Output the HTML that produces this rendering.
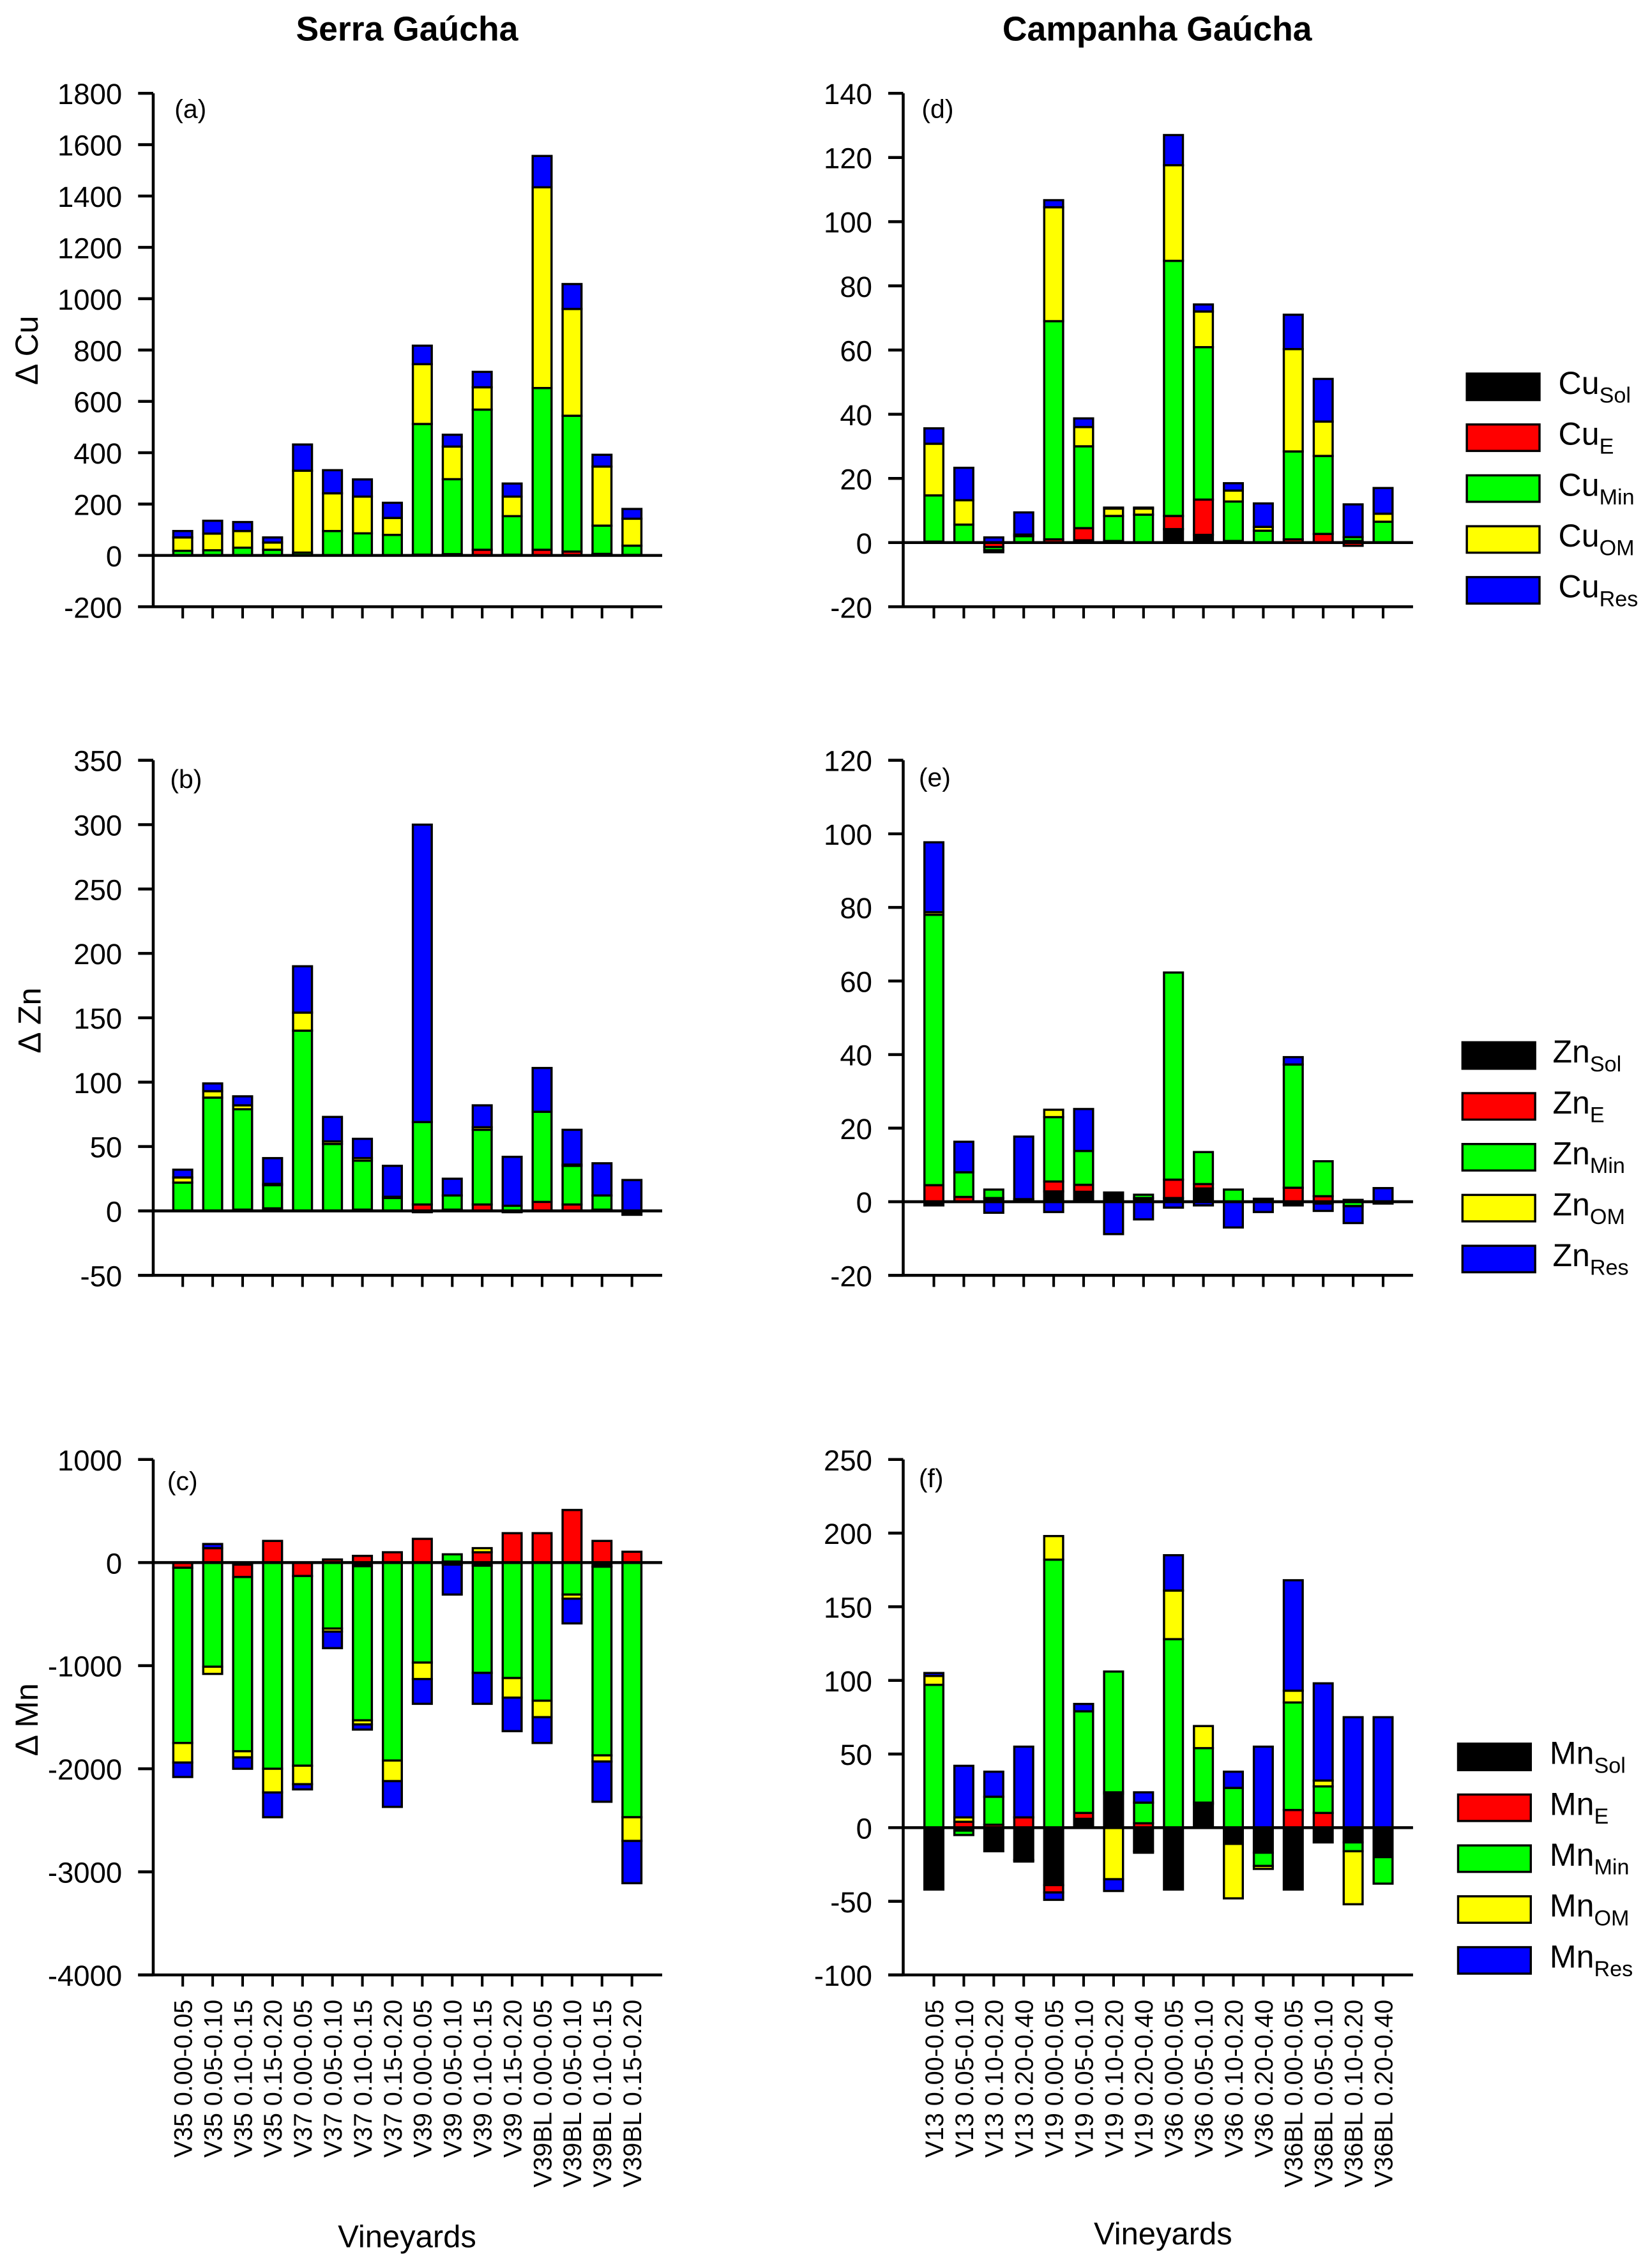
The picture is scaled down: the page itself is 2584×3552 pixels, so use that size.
<!DOCTYPE html>
<html><head><meta charset="utf-8"><style>
html,body{margin:0;padding:0;background:#fff}
svg{display:block}
text{font-family:"Liberation Sans",Arial,sans-serif;fill:#000}
</style></head><body>
<svg id="chart" xmlns="http://www.w3.org/2000/svg" width="2584" height="3552" viewBox="0 0 1135 1560.2" preserveAspectRatio="none">
<text x="280" y="28" font-size="23.5" font-weight="bold" text-anchor="middle">Serra Gaúcha</text>
<text x="796" y="28" font-size="23.5" font-weight="bold" text-anchor="middle">Campanha Gaúcha</text>
<text transform="translate(26,241) rotate(-90)" font-size="22" text-anchor="middle">Δ Cu</text>
<text transform="translate(28,702) rotate(-90)" font-size="22" text-anchor="middle">Δ Zn</text>
<text transform="translate(26,1183) rotate(-90)" font-size="22" text-anchor="middle">Δ Mn</text>
<text x="280" y="1546" font-size="21.5" text-anchor="middle">Vineyards</text>
<text x="800" y="1544" font-size="21.5" text-anchor="middle">Vineyards</text>
<g id="plots"></g>
</svg>
<script>
const catsSerra = ["V35 0.00-0.05","V35 0.05-0.10","V35 0.10-0.15","V35 0.15-0.20","V37 0.00-0.05","V37 0.05-0.10","V37 0.10-0.15","V37 0.15-0.20","V39 0.00-0.05","V39 0.05-0.10","V39 0.10-0.15","V39 0.15-0.20","V39BL 0.00-0.05","V39BL 0.05-0.10","V39BL 0.10-0.15","V39BL 0.15-0.20"];
const catsCamp = ["V13 0.00-0.05","V13 0.05-0.10","V13 0.10-0.20","V13 0.20-0.40","V19 0.00-0.05","V19 0.05-0.10","V19 0.10-0.20","V19 0.20-0.40","V36 0.00-0.05","V36 0.05-0.10","V36 0.10-0.20","V36 0.20-0.40","V36BL 0.00-0.05","V36BL 0.05-0.10","V36BL 0.10-0.20","V36BL 0.20-0.40"];
const seriesNames = ["Sol","E","Min","OM","Res"];
const seriesColors = ["#000000","#ff0000","#00ff00","#ffff00","#0000ff"];
// (a) Cu Serra
const aSol = [0,0,0,0,0,0,0,0,0,0,0,0,0,0,3,0];
const aE   = [0,0,0,0,0,0,0,0,3,5,22,3,22,15,3,2];
const aMin = [18,20,30,22,11,95,86,80,509,292,546,150,630,529,110,36];
const aOM  = [52,65,65,28,319,147,143,66,233,127,87,76,782,416,230,105];
const aRes = [25,50,35,20,102,90,67,59,72,46,60,51,122,97,46,38];
// (b) Zn Serra
const bSol = [0,0,1,2,0,0,1,0,-1,1,0,-1,0,0,1,-3];
const bE   = [0,0,0,0,0,0,0,0,5,0,5,0,7,5,0,0];
const bMin = [22,88,78,18,140,52,38,10,64,11,58,4,70,30,11,0];
const bOM  = [4,5,3,1,14,2,2,1,0,0,2,0,0,1,0,0];
const bRes = [6,6,7,20,36,19,15,24,231,13,17,38,34,27,25,24];
// (c) Mn Serra
const cSol = [0,0,-20,0,0,0,-35,0,0,0,-30,0,0,0,-40,0];
const cE   = [-50,140,-120,210,-130,30,65,100,230,10,100,285,285,510,210,105];
const cMin = [-1700,-1010,-1690,-2000,-1840,-640,-1495,-1920,-970,70,-1040,-1120,-1340,-310,-1830,-2470];
const cOM  = [-190,-70,-60,-230,-180,-30,-40,-200,-160,-20,40,-190,-160,-40,-60,-230];
const cRes = [-140,40,-110,-240,-50,-160,-50,-250,-240,-290,-300,-325,-250,-240,-390,-410];
// (d) Cu Campanha
const dSol = [0.3,0,0,0,0,0.7,0.5,0,4.2,2.4,0.5,0,0,0,0.5,0];
const dE   = [0,0,-1.4,0,1,3.8,0,0,4.1,11,0,0,1,2.7,-1,0];
const dMin = [14.4,5.6,-1,2,68,25.5,7.8,8.7,79.5,47.5,12.3,3.7,27.4,24.3,1.2,6.5];
const dOM  = [16.1,7.6,-0.6,0.5,35.5,6,2.3,1.9,29.8,11.1,3.4,1.2,31.9,10.7,0,2.5];
const dRes = [4.8,10.1,1.6,6.9,2.2,2.7,0.3,0.3,9.4,2.2,2.3,7.3,10.7,13.3,10.2,8];
// (e) Zn Campanha
const eSol = [-1,0,1,0.7,2.8,2.7,2.5,1,1,3.6,0,0.8,-1,-0.5,0.5,-0.5];
const eE   = [4.5,1.3,0,0,2.7,1.9,0,0,5,1.2,0,0,3.8,1.5,0,0];
const eMin = [73.5,6.7,2.3,0,17.5,9.2,0,0.9,56.3,8.7,3.3,0,33.5,9.5,-1.2,0];
const eOM  = [0.7,0,0,0,2,0,0,0,0,0,0,0,0,0,0,0];
const eRes = [19,8.3,-3,17,-2.8,11.4,-8.8,-4.8,-1.6,-1,-7,-2.8,2,-2,-4.6,3.7];
// (f) Mn Campanha
const fSol = [-42,-2,-16,-22,-39,6,23,-16,-42,16,-11,-17,-42,-10,-10,-20];
const fE   = [0,4,2,7,-5,4,1,3,0,1,0,0,12,10,0,0];
const fMin = [97,-3,19,-1,182,69,82,14,128,37,27,-9,73,18,-6,-18];
const fOM  = [6,3,0,0,16,0,-35,-1,33,15,-37,-2,8,4,-36,0];
const fRes = [2,35,17,48,-5,5,-8,7,24,0,11,55,75,66,75,75];

const yTicksA = [-200,0,200,400,600,800,1000,1200,1400,1600,1800];
const yTicksB = [-50,0,50,100,150,200,250,300,350];
const yTicksC = [-4000,-3000,-2000,-1000,0,1000];
const yTicksD = [-20,0,20,40,60,80,100,120,140];
const yTicksE = [-20,0,20,40,60,80,100,120];
const yTicksF = [-100,-50,0,50,100,150,200,250];

const NS = "http://www.w3.org/2000/svg";
const root = document.getElementById("plots");
function mk(tag, attrs, parent){
  const e = document.createElementNS(NS, tag);
  for (const k in attrs) e.setAttribute(k, attrs[k]);
  (parent||root).appendChild(e);
  return e;
}
const L = {ax:105.4, xl:95, xr:455.5, b0:125.7, lab:84};
const R = {ax:621.3, xl:611, xr:972, b0:642.4, lab:600};
const rows = [{top:64.2,bot:417.4},{top:523,bot:877.3},{top:1004,bot:1358.6}];
const panels = [
  {id:"a", side:L, row:0, ticks:yTicksA, s:[aSol,aE,aMin,aOM,aRes], lx:120, ly:81, el:"Cu"},
  {id:"b", side:L, row:1, ticks:yTicksB, s:[bSol,bE,bMin,bOM,bRes], lx:117, ly:542, el:"Zn"},
  {id:"c", side:L, row:2, ticks:yTicksC, s:[cSol,cE,cMin,cOM,cRes], lx:115, ly:1025, el:"Mn", labels:catsSerra},
  {id:"d", side:R, row:0, ticks:yTicksD, s:[dSol,dE,dMin,dOM,dRes], lx:634, ly:81, el:"Cu", leg:{x:1009,y:257,tx:1072}},
  {id:"e", side:R, row:1, ticks:yTicksE, s:[eSol,eE,eMin,eOM,eRes], lx:632, ly:541, el:"Zn", leg:{x:1006,y:717,tx:1068}},
  {id:"f", side:R, row:2, ticks:yTicksF, s:[fSol,fE,fMin,fOM,fRes], lx:632, ly:1023, el:"Mn", labels:catsCamp, leg:{x:1003,y:1199.5,tx:1066}}
];
const SP = 20.6, BW = 13;
panels.forEach(p=>{
  const sd = p.side, rw = rows[p.row];
  const vmin = p.ticks[0], vmax = p.ticks[p.ticks.length-1];
  const y = v => rw.bot - (v - vmin) / (vmax - vmin) * (rw.bot - rw.top);
  const x = i => sd.b0 + i * SP;
  const g = mk("g", {});
  
  
  const n = p.s[0].length;
  for (let i=0;i<n;i++){
    let pos=0, neg=0;
    p.s.forEach((arr,k)=>{
      const v = arr[i];
      if (!v) return;
      let y1,y2;
      if (v>0){ y1=y(pos+v); y2=y(pos); pos+=v; } else { y1=y(neg); y2=y(neg+v); neg+=v; }
      const r = mk("rect", {x:x(i)-BW/2, y:y1, width:BW, height:Math.max(y2-y1,0.01), fill:seriesColors[k], stroke:"#000", "stroke-width":1.5}, g);
      
      
    });
  }
  const ya = mk("line", {x1:sd.ax, x2:sd.ax, y1:rw.top, y2:rw.bot, stroke:"#000", "stroke-width":2}, g);
  
  
  p.ticks.forEach(t=>{
    const yy = y(t);
    const tl = mk("line", {x1:sd.xl, x2:(t===0? sd.xr : sd.ax), y1:yy, y2:yy, stroke:"#000", "stroke-width":2}, g);
    
    
    const tx = mk("text", {x:sd.lab, y:yy+7.5, "font-size":20, "text-anchor":"end"}, g);
    tx.textContent = t;
    
    
  });
  const xa = mk("line", {x1:sd.xl, x2:sd.xr, y1:rw.bot, y2:rw.bot, stroke:"#000", "stroke-width":2}, g);
  
  
  for (let i=0;i<n;i++){
    const xt = mk("line", {x1:x(i), x2:x(i), y1:rw.bot, y2:rw.bot+8, stroke:"#000", "stroke-width":1.8}, g);
    
    
    if (p.labels){
      const lt = mk("text", {transform:"translate("+(x(i)+6.3)+","+(rw.bot+17)+") rotate(-90)", "font-size":17.3, "text-anchor":"end"}, g);
      lt.textContent = p.labels[i];
      
      
    }
  }
  const pl = mk("text", {x:p.lx, y:p.ly, "font-size":18}, g);
  pl.textContent = "(" + p.id + ")";
  
  
  if (p.leg){
    seriesNames.forEach((nm,k)=>{
      const ty = p.leg.y + k*35;
      const lr = mk("rect", {x:p.leg.x, y:ty, width:50, height:18.2, fill:seriesColors[k], stroke:"#000", "stroke-width":1.5}, g);
      
      
      const lt = mk("text", {x:p.leg.tx, y:ty+14, "font-size":22}, g);
      
      
      const t1 = mk("tspan", {}, lt); t1.textContent = p.el;
      const t2 = mk("tspan", {dy:6, "font-size":15}, lt); t2.textContent = nm;
    });
  }
});
</script>
</body></html>
